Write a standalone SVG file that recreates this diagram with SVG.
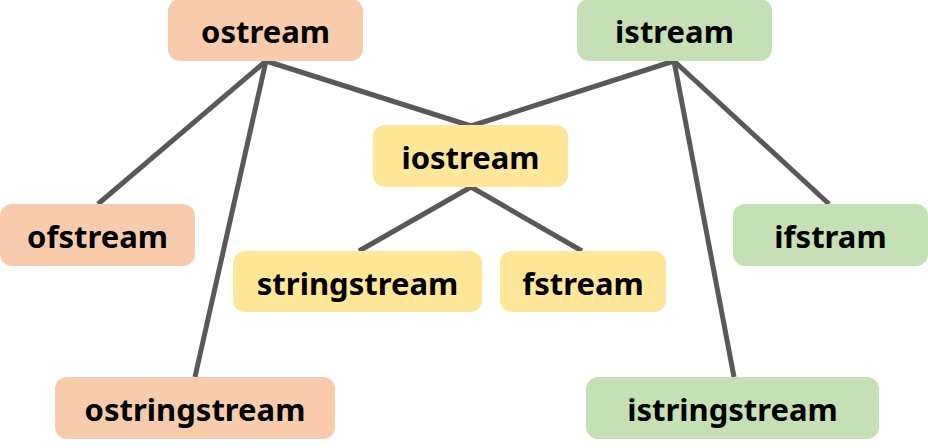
<svg xmlns="http://www.w3.org/2000/svg" width="928" height="448" viewBox="0 0 928 448">
<style>
.o{fill:#F8CBAD}.g{fill:#C5E0B4}.y{fill:#FFE699}
text{font-family:"Noto Sans","Open Sans","DejaVu Sans",sans-serif;font-weight:bold;font-size:31px;fill:#000;text-anchor:middle}
#edges line{stroke:#595959;stroke-width:5}
</style>
<rect width="928" height="448" fill="#fff"/>
<g id="edges">
<line x1="266" y1="61" x2="98" y2="204"/>
<line x1="266" y1="61" x2="195" y2="377"/>
<line x1="266" y1="61" x2="471" y2="126"/>
<line x1="674" y1="61" x2="471" y2="126"/>
<line x1="674" y1="61" x2="829" y2="204"/>
<line x1="674" y1="61" x2="734" y2="377"/>
<line x1="471" y1="187" x2="359" y2="251"/>
<line x1="471" y1="187" x2="582" y2="251"/>
</g>
<g id="ostream"><rect class="o" x="168" y="-1" width="195" height="62" rx="12"/><text x="265.5" y="43">ostream</text></g>
<g id="istream"><rect class="g" x="577" y="-1" width="195" height="62" rx="12"/><text x="674.5" y="43">istream</text></g>
<g id="iostream"><rect class="y" x="373" y="125" width="195" height="62" rx="12"/><text x="470.5" y="169">iostream</text></g>
<g id="ofstream"><rect class="o" x="0" y="204" width="195" height="62" rx="12"/><text x="97.5" y="248">ofstream</text></g>
<g id="ifstram"><rect class="g" x="733" y="204" width="195" height="62" rx="12"/><text x="830.5" y="248">ifstram</text></g>
<g id="stringstream"><rect class="y" x="233" y="251" width="249" height="61" rx="12"/><text x="357.5" y="295">stringstream</text></g>
<g id="fstream"><rect class="y" x="500" y="251" width="166" height="61" rx="12"/><text x="583" y="295">fstream</text></g>
<g id="ostringstream"><rect class="o" x="55" y="377" width="280" height="62" rx="12"/><text x="195" y="421">ostringstream</text></g>
<g id="istringstream"><rect class="g" x="586" y="377" width="293" height="62" rx="12"/><text x="732.5" y="421">istringstream</text></g>
</svg>
